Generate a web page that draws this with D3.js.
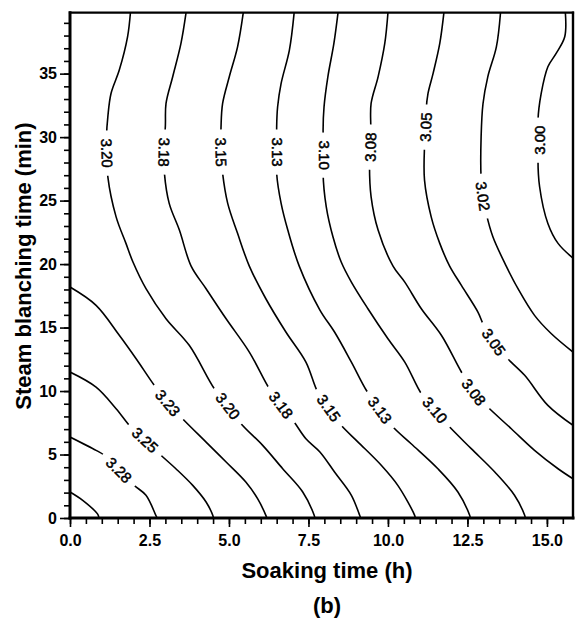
<!DOCTYPE html>
<html>
<head>
<meta charset="utf-8">
<script src="https://cdn.jsdelivr.net/npm/d3@7"></script>
<style>
  body { margin: 0; background: #fff; }
  svg { display: block; }
</style>
</head>
<body>
<svg id="chart" width="576" height="620"></svg>
<script>
// Contour map of the fitted response: soaking time (h) vs. steam blanching time (min)

// Axis ticks
const xTicks = [0, 2.5, 5, 7.5, 10, 12.5, 15];
const xTickLabels = ["0.0", "2.5", "5.0", "7.5", "10.0", "12.5", "15.0"];
const yTicks = [0, 5, 10, 15, 20, 25, 30, 35];
const yTickLabels = ["0", "5", "10", "15", "20", "25", "30", "35"];

// Contour lines: [soaking time h, blanching time min]
const c330 = [[0,2.05],[0.40,1.39],[0.87,0.30],[0.91,0]];
const c328 = [[0,6.38],[0.82,5.33],[1.08,4.94],[1.54,3.78],[2.02,2.57],[2.39,1.79],[2.70,0.21],[2.74,0]];
const c325 = [[0,11.50],[0.82,10.31],[1.45,8.61],[1.91,7.17],[2.36,6.14],[2.86,4.94],[3.33,3.88],[3.86,2.57],[4.28,1.26],[4.49,0.21],[4.51,0]];
const c323 = [[0,18.19],[0.82,16.75],[1.55,14.39],[2.08,12.54],[2.65,10.45],[3.08,9.06],[3.54,7.82],[4.28,5.98],[4.91,4.41],[5.53,2.83],[5.90,1.52],[6.16,0.21],[6.19,0]];
const c320 = [[1.90,39.8],[1.81,37.90],[1.55,35.28],[1.29,33.44],[1.19,31.60],[1.15,30.16],[1.16,28.74],[1.19,26.87],[1.45,23.72],[1.76,21.63],[1.98,20.16],[2.39,18.06],[3.02,15.69],[3.75,13.60],[4.54,10.18],[4.97,8.82],[5.38,7.43],[6.06,5.72],[6.69,3.88],[7.32,2.05],[7.68,0.21],[7.70,0]];
const c318 = [[3.65,39.8],[3.49,37.38],[3.23,34.75],[3.02,32.65],[3.00,30.94],[2.96,28.82],[2.97,27.14],[3.12,24.78],[3.44,22.68],[3.81,19.84],[4.28,18.06],[4.91,15.69],[5.64,13.07],[6.27,10.18],[6.64,8.90],[7.05,7.56],[7.42,6.24],[7.86,5.20],[8.32,3.62],[8.85,1.79],[9.11,0.21],[9.14,0]];
const c315 = [[5.45,39.8],[5.27,37.11],[5.01,34.75],[4.80,32.65],[4.75,30.81],[4.75,28.82],[4.80,27.14],[4.96,24.78],[5.27,22.42],[5.64,19.84],[6.16,17.27],[6.79,14.65],[7.42,12.28],[7.79,9.92],[8.14,8.66],[8.53,7.30],[9.06,5.98],[9.79,4.15],[10.31,2.57],[10.84,0.21],[10.86,0]];
const c313 = [[7.05,39.8],[6.90,36.85],[6.64,34.23],[6.53,32.39],[6.50,30.81],[6.51,28.82],[6.50,27.14],[6.64,24.78],[6.85,22.68],[7.21,19.84],[7.86,16.38],[8.32,14.65],[8.85,12.28],[9.32,10.06],[9.75,8.50],[10.16,7.17],[10.73,5.85],[11.57,3.88],[12.20,2.05],[12.57,0.21],[12.59,0]];
const c310 = [[8.43,39.8],[8.30,37.38],[8.11,34.75],[7.99,32.39],[7.96,30.55],[7.99,28.58],[7.96,27.14],[8.06,24.51],[8.27,22.15],[8.53,20.16],[8.85,18.58],[9.37,16.48],[10.00,14.12],[10.53,12.28],[11.05,9.79],[11.48,8.50],[11.89,7.30],[12.62,5.46],[13.36,3.62],[13.98,1.79],[14.30,0.21],[14.32,0]];
const c308 = [[10.00,39.8],[9.90,37.38],[9.69,34.75],[9.47,32.65],[9.46,30.69],[9.45,29.21],[9.42,27.66],[9.47,25.30],[9.69,22.68],[10.16,19.84],[10.53,18.58],[11.05,16.48],[11.68,14.39],[12.31,11.50],[12.70,9.92],[13.14,8.74],[13.88,7.03],[14.61,5.33],[15.35,3.88],[15.82,3.09]];
const c305 = [[11.76,39.8],[11.63,37.38],[11.42,35.02],[11.26,33.44],[11.20,32.13],[11.19,30.79],[11.15,29.24],[11.15,26.61],[11.36,23.72],[11.63,21.63],[11.94,19.84],[12.31,18.32],[12.83,16.22],[12.99,15.30],[13.33,13.86],[13.77,12.54],[14.30,11.24],[15.03,8.87],[15.82,7.30]];
const c302 = [[13.54,39.8],[13.41,37.11],[13.14,34.75],[12.99,32.65],[12.93,30.02],[12.93,26.75],[12.99,25.35],[13.09,23.99],[13.30,22.15],[13.72,19.84],[14.09,18.06],[14.61,15.96],[15.14,14.51],[15.82,13.07]];
const c300 = [[15.58,39.8],[15.56,37.90],[15.29,36.59],[15.03,35.54],[14.82,33.44],[14.72,31.34],[14.76,29.76],[14.72,28.45],[14.77,26.09],[15.03,23.20],[15.35,21.63],[15.82,20.47]];

const levels = ["3.30", "3.28", "3.25", "3.23", "3.20", "3.18", "3.15", "3.13", "3.10", "3.08", "3.05", "3.02", "3.00"];
const contourLines = [c330, c328, c325, c323, c320, c318, c315, c313, c310, c308, c305, c302, c300];

// Inline contour labels: level, position, and whether the text reads upward
const labelLevels = ["3.20", "3.18", "3.15", "3.13", "3.10", "3.08", "3.05", "3.02", "3.00",
                     "3.28", "3.25", "3.23", "3.20", "3.18", "3.15", "3.13", "3.10", "3.08", "3.05"];
const labelSoak = [1.16, 2.96, 4.75, 6.51, 7.99, 9.45, 11.19, 12.99, 14.76,
                   1.54, 2.36, 3.08, 4.97, 6.64, 8.14, 9.75, 11.48, 12.70, 13.33];
const labelBlanch = [28.74, 28.82, 28.82, 28.82, 28.58, 29.21, 30.79, 25.35, 29.76,
                     3.78, 6.14, 9.06, 8.82, 8.90, 8.66, 8.50, 8.50, 9.92, 13.86];
const labelUpward = [false, false, false, false, false, true, true, false, true,
                     false, false, false, false, false, false, false, false, false, false];

const FONT = "'Liberation Sans', Arial, Helvetica, sans-serif";
const svg = d3.select("#chart");

const x = d3.scaleLinear().domain([0, 15.82]).range([70, 573]);
const y = d3.scaleLinear().domain([0, 39.8]).range([518, 12.7]);

svg.append("defs").append("clipPath").attr("id", "plotArea")
  .append("rect")
  .attr("x", x(0)).attr("y", y(39.8))
  .attr("width", x(15.82) - x(0)).attr("height", y(0) - y(39.8));

const line = d3.line()
  .x(d => x(d[0]))
  .y(d => y(d[1]))
  .curve(d3.curveCatmullRom.alpha(0.5));

// Contour lines
const lineLayer = svg.append("g").attr("clip-path", "url(#plotArea)");
contourLines.forEach((pts, i) => {
  lineLayer.append("path")
    .attr("class", "contour level-" + levels[i])
    .attr("d", line(pts))
    .attr("fill", "none")
    .attr("stroke", "#000")
    .attr("stroke-width", 1.6)
    .attr("stroke-linejoin", "round");
});

// Labels, each on a white patch that breaks its line
const labelLayer = svg.append("g");
labelLevels.forEach((lev, k) => {
  const pts = contourLines[levels.indexOf(lev)];
  const px = x(labelSoak[k]), py = y(labelBlanch[k]);
  let best = 0, bestD = Infinity;
  pts.forEach((p, i) => {
    const d = (x(p[0]) - px) ** 2 + (y(p[1]) - py) ** 2;
    if (d < bestD) { bestD = d; best = i; }
  });
  const a = pts[Math.max(0, best - 1)], b = pts[Math.min(pts.length - 1, best + 1)];
  let angle = Math.atan2(y(b[1]) - y(a[1]), x(b[0]) - x(a[0])) * 180 / Math.PI;
  if (labelUpward[k]) angle += 180;

  const g = labelLayer.append("g")
    .attr("transform", `translate(${px},${py}) rotate(${angle})`);
  const bg = g.append("rect").attr("fill", "#fff");
  const t = g.append("text")
    .attr("text-anchor", "middle")
    .attr("dy", "0.36em")
    .attr("font-family", FONT)
    .attr("font-size", 15)
    .attr("stroke", "#000")
    .attr("stroke-width", 0.5)
    .attr("fill", "#000")
    .text(lev);
  const w = t.node().getComputedTextLength();
  bg.attr("x", -w / 2 - 8).attr("width", w + 16)
    .attr("y", -6).attr("height", 12);
});

// Axes
const styleAxis = (g) => {
  g.select(".domain").remove();
  g.selectAll("line").attr("stroke", "#000").attr("stroke-width", 1.6);
  g.selectAll("text").attr("font-family", FONT).attr("font-weight", "bold")
    .attr("font-size", 16).attr("fill", "#000");
};

svg.append("g")
  .attr("transform", `translate(0,${y(0)})`)
  .call(d3.axisBottom(x).tickValues(d3.range(0, 15.6, 0.5)).tickSize(6).tickFormat(""))
  .call(styleAxis);
svg.append("g")
  .attr("transform", `translate(0,${y(0)})`)
  .call(d3.axisBottom(x).tickValues(xTicks).tickSize(9).tickPadding(8)
    .tickFormat((d, i) => xTickLabels[i]))
  .call(styleAxis);

svg.append("g")
  .attr("transform", `translate(${x(0)},0)`)
  .call(d3.axisLeft(y).tickValues(d3.range(0, 40, 1)).tickSize(6).tickFormat(""))
  .call(styleAxis);
svg.append("g")
  .attr("transform", `translate(${x(0)},0)`)
  .call(d3.axisLeft(y).tickValues(yTicks).tickSize(10).tickPadding(3)
    .tickFormat((d, i) => yTickLabels[i]))
  .call(styleAxis);

// Frame
const x0 = x(0), x1 = x(15.82), y0 = y(0), y1 = y(39.8);
const frame = svg.append("g").attr("stroke", "#000").attr("stroke-linecap", "square");
frame.append("line").attr("x1", x0).attr("x2", x1).attr("y1", y1).attr("y2", y1).attr("stroke-width", 2.2);
frame.append("line").attr("x1", x1).attr("x2", x1).attr("y1", y1).attr("y2", y0).attr("stroke-width", 2.4);
frame.append("line").attr("x1", x0).attr("x2", x1).attr("y1", y0).attr("y2", y0).attr("stroke-width", 3);
frame.append("line").attr("x1", x0).attr("x2", x0).attr("y1", y1).attr("y2", y0).attr("stroke-width", 3);

// Titles
svg.append("text")
  .attr("x", 327).attr("y", 578)
  .attr("text-anchor", "middle")
  .attr("font-family", FONT).attr("font-weight", "bold").attr("font-size", 22)
  .text("Soaking time (h)");

svg.append("text")
  .attr("transform", "translate(31,266) rotate(-90)")
  .attr("text-anchor", "middle")
  .attr("font-family", FONT).attr("font-weight", "bold").attr("font-size", 22)
  .text("Steam blanching time (min)");

svg.append("text")
  .attr("x", 327).attr("y", 613)
  .attr("text-anchor", "middle")
  .attr("font-family", FONT).attr("font-weight", "bold").attr("font-size", 22)
  .text("(b)");
</script>
</body>
</html>
